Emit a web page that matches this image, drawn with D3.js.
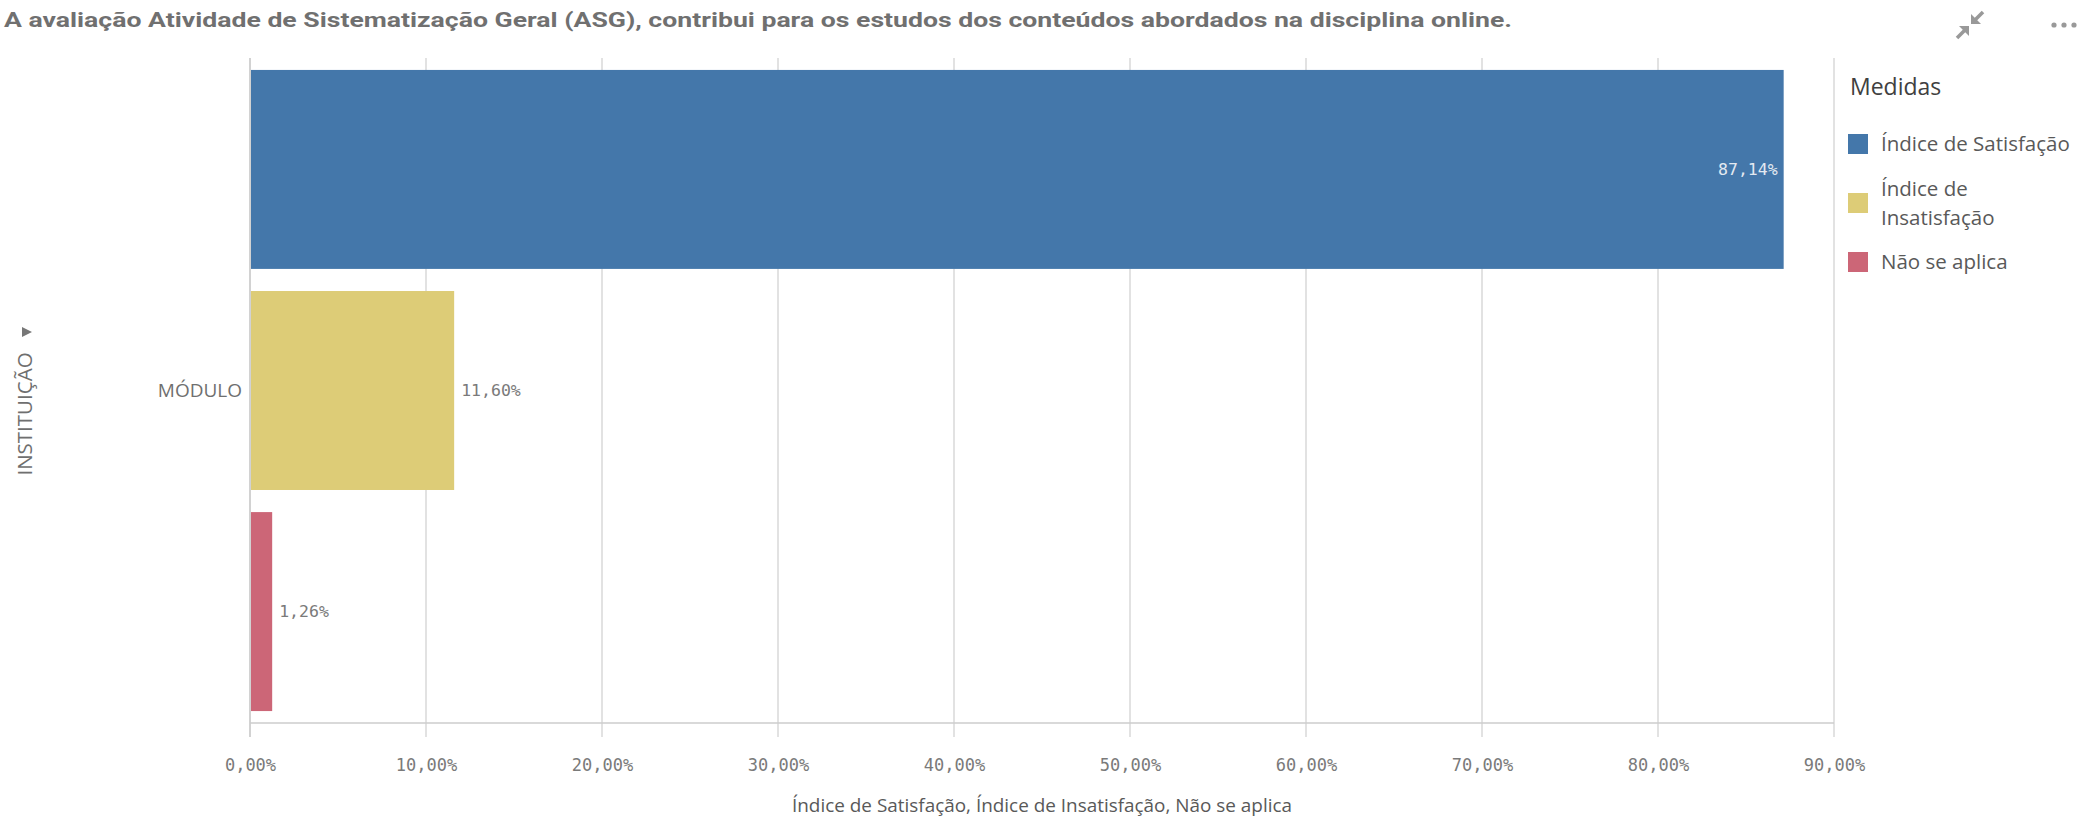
<!DOCTYPE html>
<html><head><meta charset="utf-8">
<script src="https://cdn.jsdelivr.net/npm/d3@7"></script>
<style>body{margin:0;background:#fff;} svg{display:block;}</style>
</head><body>
<script>
const title = "A avaliação Atividade de Sistematização Geral (ASG), contribui para os estudos dos conteúdos abordados na disciplina online.";
const categories = ["MÓDULO"];
const measures = ["Índice de Satisfação", "Índice de Insatisfação", "Não se aplica"];
const legendLines = [["Índice de Satisfação"], ["Índice de", "Insatisfação"], ["Não se aplica"]];
const values = [87.14, 11.60, 1.26];
const colors = ["#4477aa", "#ddcc77", "#cc6677"];
const xTicks = [0, 10, 20, 30, 40, 50, 60, 70, 80, 90];
const dimTitle = "INSTITUIÇÃO";
const xTitle = "Índice de Satisfação, Índice de Insatisfação, Não se aplica";
const legendTitle = "Medidas";

const W = 2085, H = 819;
const svg = d3.select("body").append("svg").attr("width", W).attr("height", H);
const fmt = v => d3.format(".2f")(v).replace(".", ",") + "%";

const x = d3.scaleLinear().domain([0, 90]).range([250, 1834]);
const yCat = d3.scaleBand().domain(categories).range([58, 723]);
const yIn = d3.scaleBand().domain(measures).range([yCat.range()[0], yCat.range()[1]]).paddingInner(0.1).paddingOuter(0.054);

// title
svg.append("text").attr("x", 4).attr("y", 27).text(title)
  .attr("font-family", "Roboto, 'Open Sans', sans-serif").attr("font-weight", "bold")
  .attr("font-size", 21).attr("fill", "#707070")
  .attr("textLength", 1508).attr("lengthAdjust", "spacingAndGlyphs");

// icons
const ic = svg.append("g").attr("fill", "#999").attr("stroke", "#999");
ic.append("path").attr("d", "M1971,24 L1971,14 L1981,24 Z").attr("stroke", "none");
ic.append("line").attr("x1", 1974).attr("y1", 21).attr("x2", 1983).attr("y2", 12).attr("stroke-width", 3.5);
ic.append("path").attr("d", "M1969,26 L1959,26 L1969,36 Z").attr("stroke", "none");
ic.append("line").attr("x1", 1966).attr("y1", 29).attr("x2", 1957).attr("y2", 38).attr("stroke-width", 3.5);
[2054, 2064, 2074].forEach(cx => svg.append("circle").attr("cx", cx).attr("cy", 25).attr("r", 2.6).attr("fill", "#999"));

// gridlines
svg.append("g").selectAll("line").data(xTicks).join("line")
  .attr("x1", d => x(d)).attr("x2", d => x(d)).attr("y1", 58).attr("y2", 737)
  .attr("stroke", "#d9d9d9").attr("stroke-width", 1.5);

// bars
svg.append("g").selectAll("rect").data(values).join("rect")
  .attr("x", x(0) + 1).attr("y", (d, i) => yIn(measures[i]))
  .attr("width", d => x(d) - x(0) - 1).attr("height", yIn.bandwidth())
  .attr("fill", (d, i) => colors[i]);

// axis lines
svg.append("line").attr("x1", x(0)).attr("x2", x(90)).attr("y1", 723).attr("y2", 723).attr("stroke", "#cccccc").attr("stroke-width", 1.5);
svg.append("line").attr("x1", x(0)).attr("x2", x(0)).attr("y1", 58).attr("y2", 737).attr("stroke", "#cccccc").attr("stroke-width", 1.5);

// value labels
const mono = "'DejaVu Sans Mono', 'Liberation Mono', monospace";
svg.append("g").selectAll("text").data(values).join("text")
  .attr("x", (d, i) => i === 0 ? x(d) - 6 : x(d) + 7)
  .attr("y", (d, i) => yIn(measures[i]) + yIn.bandwidth() / 2)
  .attr("dy", "0.35em")
  .attr("text-anchor", (d, i) => i === 0 ? "end" : "start")
  .attr("font-family", mono).attr("font-size", 16.5)
  .attr("fill", (d, i) => i === 0 ? "#e3e9f1" : "#7a7a7a")
  .text(d => fmt(d));

// x axis ticks
const xAxis = d3.axisBottom(x).tickValues(xTicks).tickSize(0).tickPadding(0).tickFormat(fmt);
const gx = svg.append("g").attr("transform", "translate(0,765)").call(xAxis);
gx.select(".domain").remove();
gx.selectAll("text").attr("dy", "0.35em").attr("font-family", mono).attr("font-size", 17).attr("fill", "#7a7a7a");

// x title
svg.append("text").attr("x", (x(0) + x(90)) / 2).attr("y", 806).attr("dy", "0.35em")
  .attr("text-anchor", "middle").attr("font-family", "'Open Sans', sans-serif").attr("font-size", 18)
  .attr("fill", "#595959").attr("textLength", 500).attr("lengthAdjust", "spacingAndGlyphs").text(xTitle);

// y category label
const yAxis = d3.axisLeft(yCat).tickSize(0).tickPadding(0);
const gy = svg.append("g").attr("transform", "translate(242,0)").call(yAxis);
gy.select(".domain").remove();
gy.selectAll("text").attr("font-family", "'Open Sans', sans-serif").attr("font-size", 19).attr("fill", "#6f6f6f")
  .attr("y", yIn(measures[1]) + yIn.bandwidth() / 2 - yCat(categories[0]) - yCat.bandwidth() / 2).attr("dy", "0.35em");

// dimension title rotated
svg.append("text").attr("transform", "translate(25,414) rotate(-90)").attr("text-anchor", "middle").attr("dy", "0.35em")
  .attr("font-family", "'Open Sans', sans-serif").attr("font-size", 20.5).attr("fill", "#6f6f6f").text(dimTitle);
svg.append("path").attr("d", "M22,327 L32,332 L22,337 Z").attr("fill", "#777");

// legend
svg.append("text").attr("x", 1850).attr("y", 87).attr("dy", "0.35em").attr("font-family", "'Open Sans', sans-serif")
  .attr("font-size", 23).attr("fill", "#404040").text(legendTitle);
const legY = [144, 203, 262];
const lg = svg.append("g").selectAll("g").data(measures).join("g");
lg.append("rect").attr("x", 1848).attr("y", (d, i) => legY[i] - 10).attr("width", 20).attr("height", 20)
  .attr("fill", (d, i) => colors[i]);
lg.each(function(d, i) {
  const lines = legendLines[i];
  const g = d3.select(this);
  lines.forEach((ln, j) => {
    g.append("text").attr("x", 1881).attr("y", legY[i] + (j - (lines.length - 1) / 2) * 29).attr("dy", "0.35em")
      .attr("font-family", "'Open Sans', sans-serif").attr("font-size", 20.5).attr("fill", "#595959").text(ln);
  });
});
</script>
</body></html>
